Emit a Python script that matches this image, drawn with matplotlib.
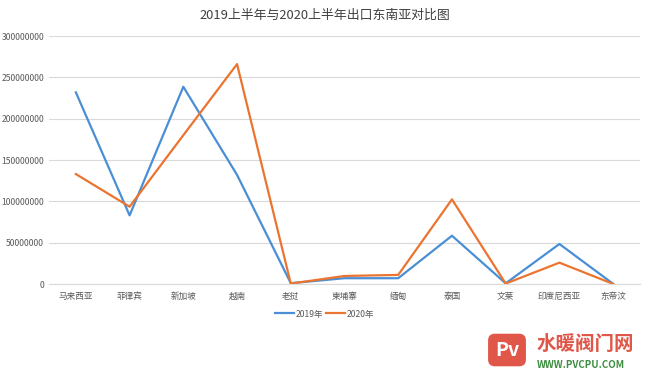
import matplotlib
matplotlib.use('Agg')
import matplotlib.pyplot as plt
from matplotlib.ticker import MultipleLocator, FuncFormatter

plt.rcParams['font.family'] = ['Noto Sans CJK SC', 'DejaVu Sans']

# data
countries = ['马来西亚', '菲律宾', '新加坡', '越南', '老挝', '柬埔寨',
             '缅甸', '泰国', '文莱', '印度尼西亚', '东帝汶']
exports_2019 = [231.8e6, 83e6, 238.6e6, 132e6, 1.0e6, 7e6,
                7e6, 58.4e6, 0.8e6, 48.4e6, 0.2e6]
exports_2020 = [133e6, 93.5e6, 180e6, 266e6, 0.5e6, 9.7e6,
                11e6, 102.4e6, 0.5e6, 25.8e6, 0.1e6]

fig = plt.figure(figsize=(6.5, 3.8), dpi=100)
ax = fig.add_axes([49/650, 1 - 284/380, 591/650, 248/380])

x = range(len(countries))
ax.plot(x, exports_2019, color='#4A8FD6', lw=1.6, label='2019年')
ax.plot(x, exports_2020, color='#EB7430', lw=1.6, label='2020年')

ax.set_xlim(-0.5, len(countries) - 0.5)
ax.set_ylim(0, 300e6)
ax.yaxis.set_major_locator(MultipleLocator(50e6))
ax.yaxis.set_major_formatter(FuncFormatter(lambda v, p: '%d' % v))
ax.set_xticks(list(x))
ax.set_xticklabels(countries)
ax.tick_params(axis='both', length=0, labelsize=6.2, colors='#595959')
ax.tick_params(axis='x', pad=5.5)
ax.tick_params(axis='y', pad=3.5)

ax.grid(axis='y', color='#D9D9D9', lw=0.8)
ax.set_axisbelow(True)
for s in ['top', 'right', 'left']:
    ax.spines[s].set_visible(False)
ax.spines['bottom'].set_color('#D9D9D9')

fig.text(0.5, 1 - 15/380, '2019上半年与2020上半年出口东南亚对比图',
         ha='center', va='center', fontsize=9.3, color='#404040')

leg = fig.legend(loc='center', bbox_to_anchor=(325/650, 1 - 314/380), ncol=2,
                 frameon=False, fontsize=6.2, handlelength=2.2, columnspacing=0.3,
                 handletextpad=0.2)
for t in leg.get_texts():
    t.set_color('#595959')

# watermark
fig.text(537/650, 1 - 344/380, '水暖阀门网', ha='left', va='center',
         fontsize=14, color='#E0574A', fontweight='bold')
fig.text(537/650, 1 - 365/380, 'WWW.PVCPU.COM', ha='left', va='center',
         fontsize=7, color='#3E8E41', fontweight='bold')
fig.text(507/650, 1 - 350/380, 'Pv', ha='center', va='center',
         fontsize=14, color='white', style='italic', fontweight='bold',
         bbox=dict(boxstyle='round,pad=0.35', fc='#E0574A', ec='none'))

fig.savefig('out.png', dpi=100)
